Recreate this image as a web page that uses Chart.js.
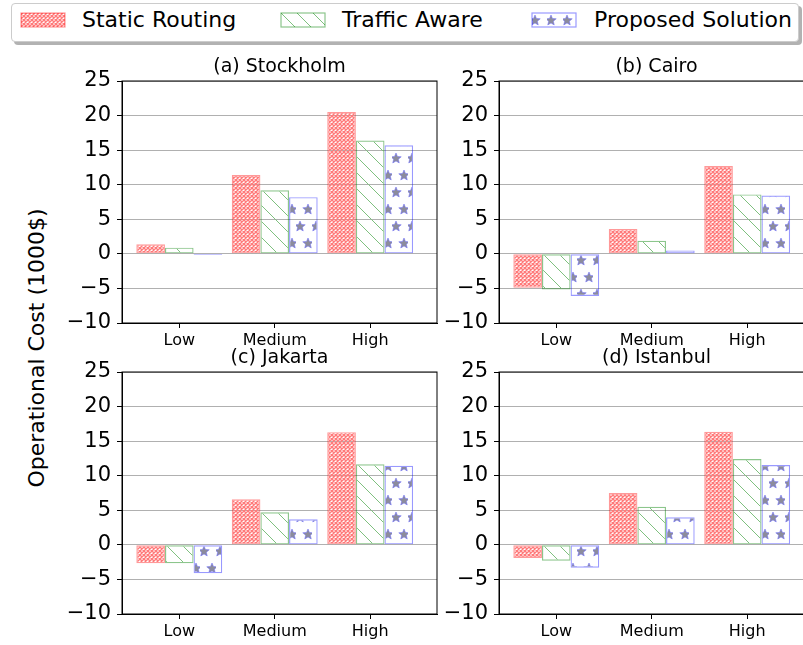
<!DOCTYPE html>
<html>
<head>
<meta charset="utf-8">
<script src="https://cdn.jsdelivr.net/npm/chart.js@4.4.1/dist/chart.umd.min.js"></script>
<style>
    body { margin: 0; width: 803px; height: 645px; overflow: hidden; background: #fff; position: relative; font-family: 'DejaVu Sans', sans-serif; }
    canvas.panel { position: absolute; }
    #legendBox { position: absolute; left: 11px; top: 3px; width: 786px; height: 37px; border: 1px solid #cccccc; border-radius: 4px; background: #fff; box-shadow: 3px 3px 0 rgba(0, 0, 0, 0.3); }
    .swatch { position: absolute; top: 12px; }
    .legendText { position: absolute; top: 6px; font-size: 22px; line-height: 28px; color: #000; white-space: nowrap; }
    #yLabel { position: absolute; left: 36px; top: 348px; transform: translate(-50%, -50%) rotate(-90deg); font-size: 22px; white-space: nowrap; color: #000; }
</style>
</head>
<body>
<div id="legendBox"></div>
<canvas class="swatch" id="swStatic" width="46" height="16" style="left:20px"></canvas>
<span class="legendText" style="left:82px">Static Routing</span>
<canvas class="swatch" id="swTraffic" width="46" height="16" style="left:280px"></canvas>
<span class="legendText" style="left:342px">Traffic Aware</span>
<canvas class="swatch" id="swProposed" width="46" height="16" style="left:531px"></canvas>
<span class="legendText" style="left:594px">Proposed Solution</span>

<div id="yLabel">Operational Cost (1000$)</div>

<canvas class="panel" id="stockholmChart" width="410" height="305" style="left:40px; top:48px"></canvas>
<canvas class="panel" id="cairoChart" width="410" height="305" style="left:417px; top:48px"></canvas>
<canvas class="panel" id="jakartaChart" width="410" height="305" style="left:40px; top:339px"></canvas>
<canvas class="panel" id="istanbulChart" width="410" height="305" style="left:417px; top:339px"></canvas>

<script>
const levels = ['Low', 'Medium', 'High'];
const yTicks = [-10, -5, 0, 5, 10, 15, 20, 25];

const stockholmStatic = [1.4, 11.4, 20.5];
const stockholmTraffic = [0.9, 9.2, 16.4];
const stockholmProposed = [-0.15, 8.2, 15.7];

const cairoStatic = [-4.9, 3.6, 12.7];
const cairoTraffic = [-5.15, 1.9, 8.6];
const cairoProposed = [-6.1, 0.5, 8.45];

const jakartaStatic = [-2.65, 6.6, 16.3];
const jakartaTraffic = [-2.65, 4.7, 11.65];
const jakartaProposed = [-4.1, 3.7, 11.45];

const istanbulStatic = [-1.9, 7.5, 16.35];
const istanbulTraffic = [-2.3, 5.5, 12.4];
const istanbulProposed = [-3.3, 4.0, 11.55];

Chart.defaults.font.family = "'DejaVu Sans', sans-serif";
Chart.defaults.color = '#000';

// hatch fills (opaque light colours so crossing lines don't darken)
function crossHatch(ctx) {
    const s = 4;
    const c = document.createElement('canvas');
    c.width = s; c.height = s;
    const g = c.getContext('2d');
    g.strokeStyle = '#ff7a7a';
    g.lineWidth = 1.4;
    g.beginPath();
    for (const k of [-s, 0, s]) { g.moveTo(k, 0); g.lineTo(k + s, s); }
    for (const k of [0, s, 2 * s]) { g.moveTo(k, 0); g.lineTo(k - s, s); }
    g.stroke();
    return ctx.createPattern(c, 'repeat');
}

function diagonalHatch(ctx) {
    const s = 16;
    const c = document.createElement('canvas');
    c.width = s; c.height = s;
    const g = c.getContext('2d');
    g.strokeStyle = '#7fc07f';
    g.lineWidth = 1;
    g.beginPath();
    g.moveTo(0, 0); g.lineTo(s, s);
    g.moveTo(-1, s - 1); g.lineTo(1, s + 1);
    g.moveTo(s - 1, -1); g.lineTo(s + 1, 1);
    g.stroke();
    return ctx.createPattern(c, 'repeat');
}

function drawStar(g, cx, cy, r) {
    g.beginPath();
    for (let i = 0; i < 10; i++) {
        const rad = i % 2 === 0 ? r : r * 0.45;
        const a = -Math.PI / 2 + i * Math.PI / 5;
        const px = cx + rad * Math.cos(a), py = cy + rad * Math.sin(a);
        if (i === 0) g.moveTo(px, py); else g.lineTo(px, py);
    }
    g.closePath();
    g.fill();
    g.stroke();
}

function starHatch(ctx) {
    const w = 16, h = 34;
    const c = document.createElement('canvas');
    c.width = w; c.height = h;
    const g = c.getContext('2d');
    g.fillStyle = '#8c8c9c';
    g.strokeStyle = 'rgba(110, 110, 255, 0.55)';
    g.lineWidth = 1;
    drawStar(g, 4, 8.5, 5.5);
    drawStar(g, 12, 25.5, 5.5);
    return ctx.createPattern(c, 'repeat');
}

const seriesStyle = [
    { label: 'Static Routing', fill: crossHatch, edge: 'rgba(255, 0, 0, 0.4)' },
    { label: 'Traffic Aware', fill: diagonalHatch, edge: 'rgba(0, 128, 0, 0.45)' },
    { label: 'Proposed Solution', fill: starHatch, edge: 'rgba(0, 0, 255, 0.4)' }
];

// legend swatches
[['swStatic', 0], ['swTraffic', 1], ['swProposed', 2]].forEach(([id, k]) => {
    const g = document.getElementById(id).getContext('2d');
    g.fillStyle = seriesStyle[k].fill(g);
    g.fillRect(1, 1, 44, 14);
    g.strokeStyle = seriesStyle[k].edge;
    g.lineWidth = 1.2;
    g.strokeRect(1, 1, 44, 14);
});

// box around each plot area
const frame = {
    id: 'frame',
    afterDatasetsDraw(chart) {
        const { ctx, chartArea: a } = chart;
        ctx.save();
        ctx.strokeStyle = '#000';
        ctx.lineWidth = 1;
        ctx.strokeRect(a.left, a.top, a.right - a.left, a.bottom - a.top);
        ctx.restore();
    }
};

// subplot title centred over the plot area
const panelTitle = {
    id: 'panelTitle',
    afterDraw(chart, args, opts) {
        const { ctx, chartArea: a } = chart;
        ctx.save();
        ctx.font = "19px 'DejaVu Sans', sans-serif";
        ctx.fillStyle = '#000';
        ctx.textAlign = 'center';
        ctx.textBaseline = 'alphabetic';
        ctx.fillText(opts.text, (a.left + a.right) / 2, a.top - 9);
        ctx.restore();
    }
};

function makePanel(id, title, series) {
    const ctx = document.getElementById(id).getContext('2d');
    return new Chart(ctx, {
        type: 'bar',
        data: {
            datasets: series.map((vals, k) => ({
                label: seriesStyle[k].label,
                data: vals.map((v, i) => ({ x: i, y: v })),
                backgroundColor: seriesStyle[k].fill(ctx),
                borderColor: seriesStyle[k].edge,
                borderWidth: 1.2,
                borderSkipped: false
            }))
        },
        options: {
            responsive: false,
            animation: false,
            layout: { padding: { top: 33, right: 13, left: 0, bottom: 0 } },
            datasets: { bar: { categoryPercentage: 0.9, barPercentage: 1 } },
            plugins: {
                legend: { display: false },
                tooltip: { enabled: false },
                panelTitle: { text: title }
            },
            scales: {
                x: {
                    type: 'linear',
                    min: -0.6,
                    max: 2.7,
                    offset: false,
                    afterBuildTicks: s => { s.ticks = levels.map((_, i) => ({ value: i })); },
                    afterFit: s => { s.height = 30; },
                    ticks: {
                        callback: v => levels[v],
                        font: { size: 16 },
                        color: '#000',
                        padding: 3,
                        autoSkip: false,
                        maxRotation: 0
                    },
                    grid: { drawOnChartArea: false, tickLength: 5, tickColor: '#000', offset: false },
                    border: { color: '#000', width: 1 }
                },
                y: {
                    min: -10,
                    max: 25,
                    afterBuildTicks: s => { s.ticks = yTicks.map(v => ({ value: v })); },
                    afterFit: s => { s.width = 82; },
                    ticks: {
                        callback: v => v < 0 ? '\u2212' + (-v) : String(v),
                        font: { size: 21 },
                        color: '#000',
                        padding: 6
                    },
                    grid: { color: '#b0b0b0', lineWidth: 1, tickLength: 5, tickColor: '#000' },
                    border: { color: '#000', width: 1 }
                }
            }
        },
        plugins: [frame, panelTitle]
    });
}

makePanel('stockholmChart', '(a) Stockholm', [stockholmStatic, stockholmTraffic, stockholmProposed]);
makePanel('cairoChart', '(b) Cairo', [cairoStatic, cairoTraffic, cairoProposed]);
makePanel('jakartaChart', '(c) Jakarta', [jakartaStatic, jakartaTraffic, jakartaProposed]);
makePanel('istanbulChart', '(d) Istanbul', [istanbulStatic, istanbulTraffic, istanbulProposed]);
</script>
</body>
</html>
